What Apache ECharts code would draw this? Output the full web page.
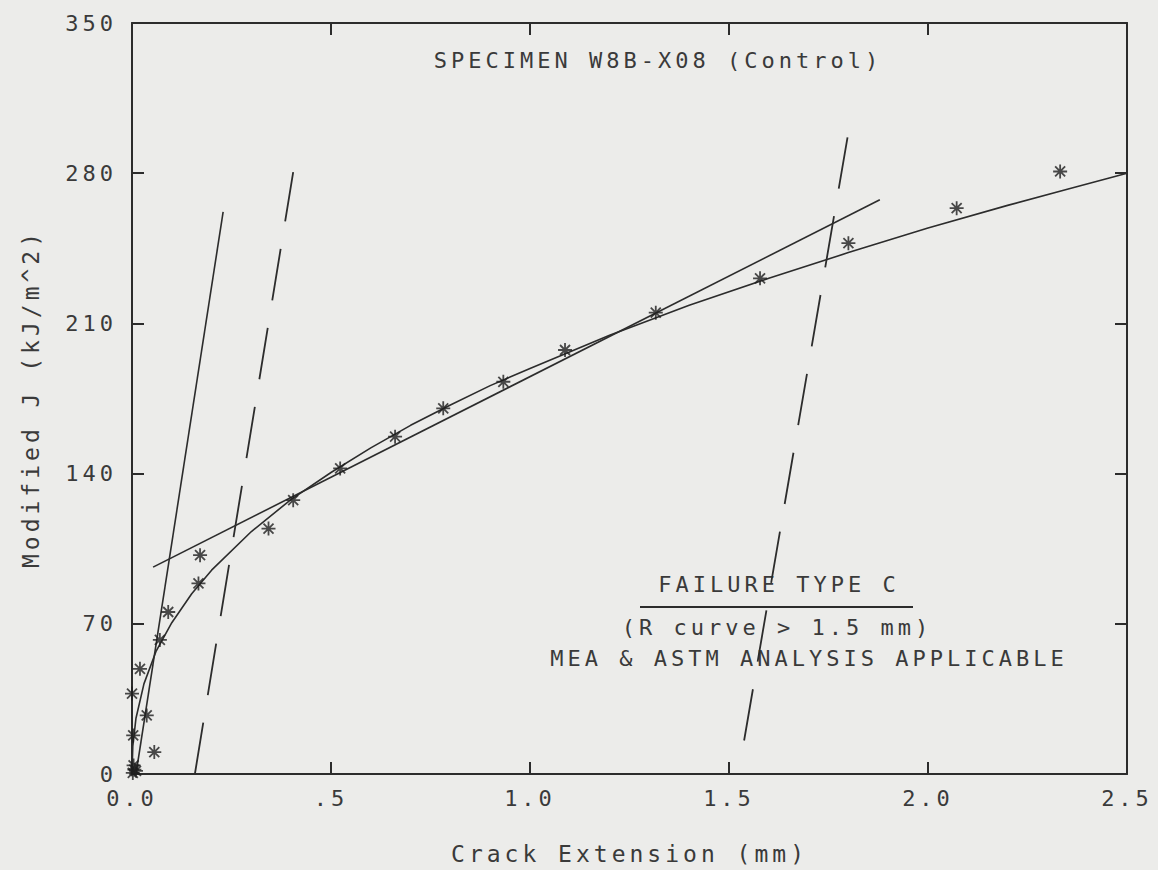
<!DOCTYPE html>
<html><head><meta charset="utf-8">
<script src="https://cdn.jsdelivr.net/npm/echarts@6/dist/echarts.min.js"></script>
<style>
html,body{margin:0;padding:0;background:#ececea;}
#chart{width:1158px;height:870px;}
#chart svg text{letter-spacing:4px;}
</style></head><body><div id="chart"></div>
<script>
// ---- data ----
const xTickLabels = ['0.0', '.5', '1.0', '1.5', '2.0', '2.5'];
const yTickLabels = ['0', '70', '140', '210', '280', '350'];

// measured J-R data points (crack extension mm, modified J kJ/m^2)
const pointDa = [0.002, 0.006, 0.004, 0.010, 0.003, 0.000, 0.020, 0.037, 0.056, 0.070, 0.091, 0.167, 0.171, 0.343, 0.405, 0.523, 0.661, 0.782, 0.933, 1.088, 1.316, 1.578, 1.800, 2.072, 2.332];
const pointJ  = [0.5, 2.0, 4.0, 1.5, 18.0, 37.5, 49.0, 27.3, 10.2, 62.5, 75.5, 88.8, 102.0, 114.4, 127.6, 142.4, 157.2, 170.4, 182.8, 197.6, 215.0, 231.0, 247.4, 263.7, 280.8];

// fitted R-curve
const curveDa = [0, 0.002, 0.01, 0.03, 0.06, 0.1, 0.15, 0.2, 0.3, 0.4, 0.5, 0.6, 0.7, 0.8, 0.9, 1.0, 1.2, 1.4, 1.6, 1.8, 2.0, 2.2, 2.35, 2.5];
const curveJ  = [0, 13, 26, 42, 57, 70.5, 84, 95, 113, 128, 140.5, 152, 162.5, 172, 181, 189, 204.5, 218.5, 231, 243, 254.5, 265, 272.5, 280];

// straight regression line (end points)
const regressDa = [0.053, 1.879];
const regressJ  = [96.4, 267.6];

// blunting line (solid)
const bluntDa = [0.010, 0.229];
const bluntJ  = [0, 262];

// 0.15 mm offset line (dashed)
const off1Da = [0.158, 0.405];
const off1J  = [0, 280.5];

// 1.5 mm offset line (dashed)
const off2Da = [1.538, 1.799];
const off2J  = [15.6, 298];

const titleText = 'SPECIMEN W8B-X08 (Control)';
const noteLines = ['FAILURE TYPE C', '(R curve > 1.5 mm)', 'MEA & ASTM ANALYSIS APPLICABLE'];
const xName = 'Crack Extension (mm)';
const yName = 'Modified J (kJ/m^2)';

// ---- build ----
const pair = (a, b) => a.map((v, i) => [v, b[i]]);
const INK = '#2c2c2c';
const TXT = '#3a3a3a';
const FONT = '"DejaVu Sans Mono", monospace';
const star = 'path://M7,0L7,14M0,7L14,7M2,2L12,12M2,12L12,2';

const chart = echarts.init(document.getElementById('chart'), null, {renderer: 'svg'});

const axisCommon = () => ({
  axisLine: {show: true, onZero: false, lineStyle: {color: INK, width: 2}},
  axisTick: {show: true, inside: true, length: 12, lineStyle: {color: INK, width: 2}},
  splitLine: {show: false}
});

chart.setOption({
  backgroundColor: '#ececea',
  animation: false,
  grid: {left: 132, right: 31, top: 23, bottom: 96, containLabel: false, outerBoundsMode: 'none'},
  xAxis: [
    Object.assign({
      type: 'value', min: 0, max: 2.5, interval: 0.5, position: 'bottom',
      name: xName, nameLocation: 'middle', nameGap: 68,
      nameTextStyle: {fontFamily: FONT, fontSize: 23, color: TXT},
      axisLabel: {
        margin: 13, fontFamily: FONT, fontSize: 22, color: TXT,
        formatter: v => xTickLabels[Math.round(v / 0.5)]
      }
    }, axisCommon()),
    Object.assign({
      type: 'value', min: 0, max: 2.5, interval: 0.5, position: 'top',
      axisLabel: {show: false}
    }, axisCommon())
  ],
  yAxis: [
    Object.assign({
      type: 'value', min: 0, max: 350, interval: 70, position: 'left',
      name: yName, nameLocation: 'middle', nameGap: 90,
      nameTextStyle: {fontFamily: FONT, fontSize: 23, color: TXT},
      axisLabel: {
        margin: 15, fontFamily: FONT, fontSize: 22, color: TXT,
        formatter: v => yTickLabels[Math.round(v / 70)]
      }
    }, axisCommon()),
    Object.assign({
      type: 'value', min: 0, max: 350, interval: 70, position: 'right',
      axisLabel: {show: false}
    }, axisCommon())
  ],
  series: [
    {
      type: 'line', data: pair(curveDa, curveJ), showSymbol: false, symbol: 'none',
      lineStyle: {color: INK, width: 1.6}, z: 3
    },
    {
      type: 'line', data: pair(regressDa, regressJ), symbol: 'none',
      lineStyle: {color: INK, width: 1.6}, z: 3
    },
    {
      type: 'line', data: pair(bluntDa, bluntJ), symbol: 'none',
      lineStyle: {color: INK, width: 1.6}, z: 3
    },
    {
      type: 'line', data: pair(off1Da, off1J), symbol: 'none',
      lineStyle: {color: INK, width: 1.8, type: [52, 28]}, z: 3
    },
    {
      type: 'line', data: pair(off2Da, off2J), symbol: 'none',
      lineStyle: {color: INK, width: 1.8, type: [52, 28]}, z: 3
    },
    {
      type: 'scatter', data: pair(pointDa, pointJ), symbol: star, symbolSize: 14,
      itemStyle: {color: 'rgba(0,0,0,0)', borderColor: '#1e1e1e', borderWidth: 1.8}, z: 4
    }
  ],
  graphic: [
    {type: 'text', style: {text: titleText, x: 658, y: 60, font: '22px ' + FONT, fill: TXT, textAlign: 'center', textVerticalAlign: 'middle'}},
    {type: 'text', style: {text: noteLines[0], x: 779, y: 584, font: '22px ' + FONT, fill: TXT, textAlign: 'center', textVerticalAlign: 'middle'}},
    {type: 'line', shape: {x1: 640, y1: 607, x2: 913, y2: 607}, style: {stroke: INK, lineWidth: 2}},
    {type: 'text', style: {text: noteLines[1], x: 777, y: 627, font: '22px ' + FONT, fill: TXT, textAlign: 'center', textVerticalAlign: 'middle'}},
    {type: 'text', style: {text: noteLines[2], x: 809, y: 658, font: '22px ' + FONT, fill: TXT, textAlign: 'center', textVerticalAlign: 'middle'}}
  ]
});
</script>
</body></html>
